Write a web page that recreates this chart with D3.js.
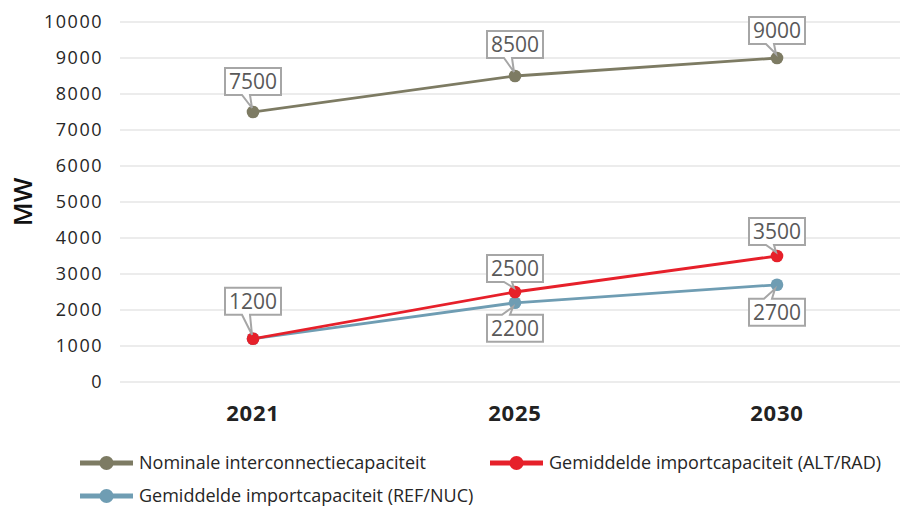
<!DOCTYPE html>
<html><head><meta charset="utf-8">
<script src="https://cdn.jsdelivr.net/npm/d3@7"></script>
<style>body{margin:0;background:#fff}svg{display:block}text{font-family:"Open Sans",sans-serif}</style>
</head><body><svg id="c" width="900" height="506"></svg>
<script>
const categories = ["2021", "2025", "2030"];
const nominal = [7500, 8500, 9000];
const altRad = [1200, 2500, 3500];
const refNuc = [1200, 2200, 2700];
const yTicks = [0,1000,2000,3000,4000,5000,6000,7000,8000,9000,10000];
const seriesNames = ["Nominale interconnectiecapaciteit", "Gemiddelde importcapaciteit (ALT/RAD)", "Gemiddelde importcapaciteit (REF/NUC)"];
const colors = ["#7d7b63", "#e6202a", "#6f9db3"];
const series = [nominal, altRad, refNuc];

const svg = d3.select("#c");
const x = d3.scaleBand().domain(categories).range([122, 908]);
const y = d3.scaleLinear().domain([0, 10000]).range([382, 22]);
const cx = c => x(c) + x.bandwidth()/2;

// grid
svg.append("g").selectAll("line").data(yTicks).join("line")
  .attr("x1", 120).attr("x2", 906).attr("y1", d=>y(d)).attr("y2", d=>y(d))
  .attr("stroke", "#d9d9d9").attr("stroke-width", 1);

// y axis labels
svg.append("g").selectAll("text").data(yTicks).join("text")
  .attr("x", 103).attr("y", d=>y(d)).attr("dy", "0.35em").attr("text-anchor","end")
  .attr("font-size", 18).attr("letter-spacing", 1.5).attr("fill", "#262626").text(d=>d);

svg.append("text").attr("transform","translate(32,202) rotate(-90)")
  .attr("text-anchor","middle").attr("font-size",26).attr("font-weight","600").attr("fill","#111").text("MW");

// x axis labels
svg.append("g").selectAll("text").data(categories).join("text")
  .attr("x", d=>cx(d)).attr("y", 421).attr("text-anchor","middle")
  .attr("font-size", 22).attr("letter-spacing", 0.8).attr("font-weight","700").attr("fill","#222").text(d=>d);

// lines
const line = d3.line().x((d,i)=>cx(categories[i])).y(d=>y(d));
[0,2,1].forEach(si=>{
  svg.append("path").datum(series[si]).attr("d", line).attr("fill","none")
    .attr("stroke", colors[si]).attr("stroke-width", 2.8);
});
[0,2,1].forEach(si=>{
  svg.append("g").selectAll("circle").data(series[si]).join("circle")
    .attr("cx",(d,i)=>cx(categories[i])).attr("cy", d=>y(d)).attr("r", 6.3)
    .attr("fill", colors[si]);
});

// callouts
const callouts = [
  {s:0,i:0,pos:"above",gap:17},{s:0,i:1,pos:"above",gap:18},{s:0,i:2,pos:"above",gap:14},
  {s:1,i:0,pos:"above",gap:24},{s:1,i:1,pos:"above",gap:10},{s:1,i:2,pos:"above",gap:11},
  {s:2,i:1,pos:"below",gap:12},{s:2,i:2,pos:"below",gap:14}
];
const bw = 56, bh = 27;
callouts.forEach(c=>{
  const v = series[c.s][c.i];
  const px = cx(categories[c.i]), py = y(v);
  const left = px - bw/2;
  let path, ty;
  if (c.pos === "above") {
    const top = py - c.gap - bh, bot = py - c.gap;
    path = `M${left},${top}H${left+bw}V${bot}H${px-3}L${px-1},${py-4}L${px-11},${bot}H${left}Z`;
    ty = top + bh/2;
  } else {
    const top = py + c.gap, bot = py + c.gap + bh;
    path = `M${left},${top}H${px-13}L${px-2},${py+4}L${px-5},${top}H${left+bw}V${bot}H${left}Z`;
    ty = top + bh/2;
  }
  svg.append("path").attr("d", path).attr("fill","#fff").attr("stroke","#a6a6a6").attr("stroke-width",2);
  svg.append("text").attr("x", px).attr("y", ty).attr("dy","0.36em").attr("text-anchor","middle")
    .attr("font-size", 21).attr("fill","#595959").text(v);
});

// legend
const legendPos = [{x:80,y:463},{x:490,y:463},{x:80,y:496}];
legendPos.forEach((p,i)=>{
  const g = svg.append("g");
  g.append("line").attr("x1",p.x).attr("x2",p.x+53).attr("y1",p.y).attr("y2",p.y)
    .attr("stroke",colors[i]).attr("stroke-width",5);
  g.append("circle").attr("cx",p.x+26.5).attr("cy",p.y).attr("r",7).attr("fill",colors[i]);
  g.append("text").attr("x",p.x+59).attr("y",p.y).attr("dy","0.35em").attr("font-size",18)
    .attr("fill","#262626").text(seriesNames[i]);
});
</script></body></html>
